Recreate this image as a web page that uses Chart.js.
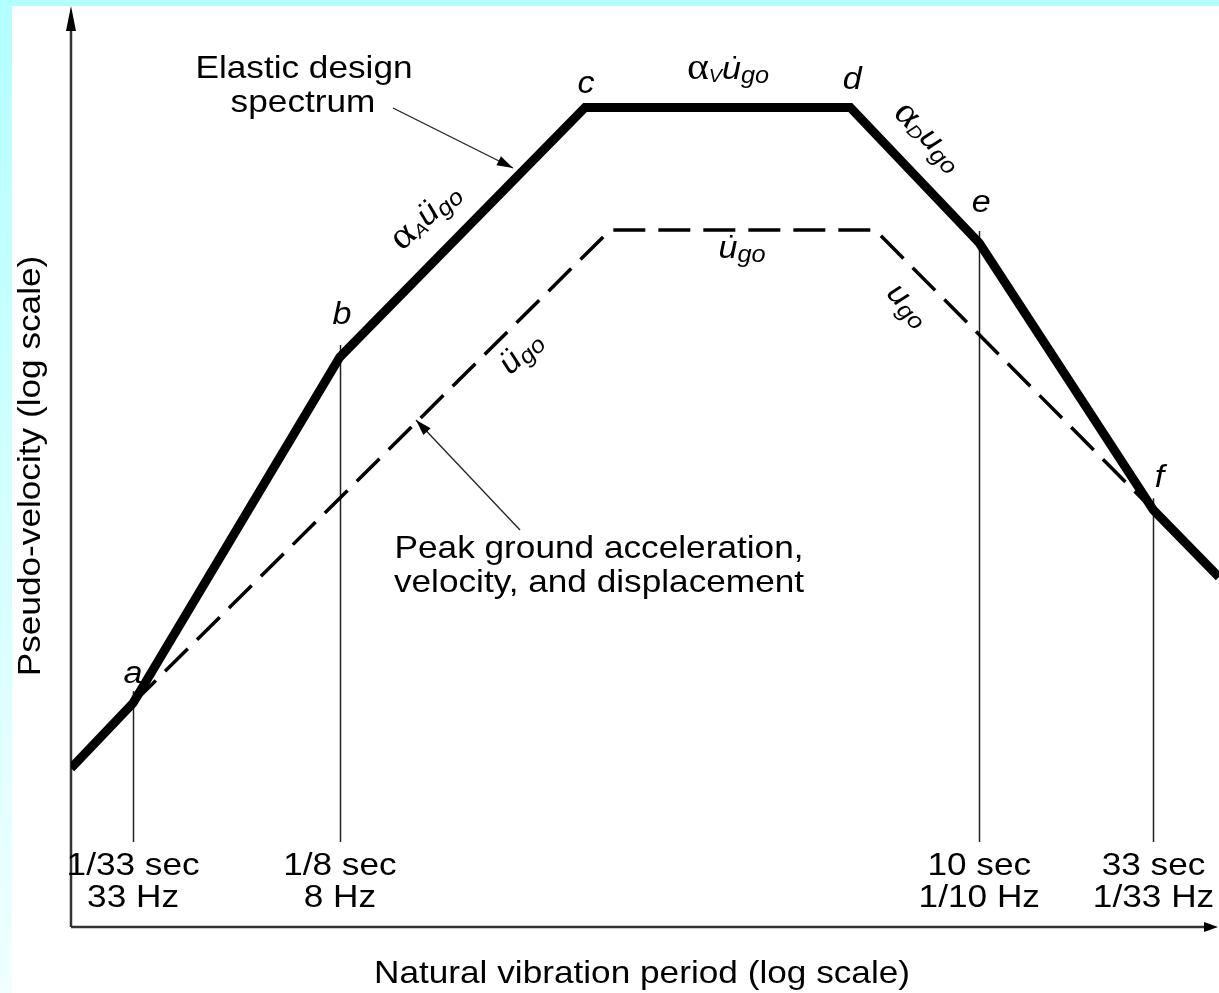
<!DOCTYPE html>
<html>
<head>
<meta charset="utf-8">
<script src="https://cdn.jsdelivr.net/npm/chart.js@4.4.0/dist/chart.umd.min.js"></script>
<style>
  html, body { margin: 0; padding: 0; }
  body { width: 1219px; height: 993px; overflow: hidden; }
</style>
</head>
<body>
<canvas id="chart" width="1219" height="993"></canvas>
<script>
// corner points of the elastic design spectrum (period in sec, pseudo-velocity, arbitrary units)
const spectrumPeriod = [0.0198, 1 / 33, 1 / 8, 0.671, 4.13, 10, 33, 51.7];
const spectrumVel = [2.97, 4.64, 49.7, 275, 275, 108.6, 17.4, 11.0];
// peak ground motion line (dashed)
const groundPeriod = [1 / 33, 0.797, 4.90, 33];
const groundVel = [4.64, 118.7, 118.7, 17.4];
// period markers along the axis
const markerPeriod = [1 / 33, 1 / 8, 10, 33];
const markerSec = ['1/33 sec', '1/8 sec', '10 sec', '33 sec'];
const markerHz = ['33 Hz', '8 Hz', '1/10 Hz', '1/33 Hz'];
// names of the spectrum corners a..f (index into spectrum arrays)
const cornerName = ['a', 'b', 'c', 'd', 'e', 'f'];
const cornerIndex = [1, 2, 3, 4, 5, 6];

const SANS = '"Liberation Sans", Arial, sans-serif';
const STRETCH = 1.1;   // the original lettering is a bit wider than Arial

// label offsets from the corner point, px
const cornerOffset = [[0, -29], [2, -42], [1, -23], [2, -27], [2, -40], [6, -32]];

function sup(t) { return { t, font: 'italic 31px ' + SANS }; }
function alpha() { return { t: 'α', font: '38px "Liberation Serif", serif', dy: -1 }; }
function sub(t, size) { return { t, font: 'italic ' + size + 'px ' + SANS, dy: 7 }; }

// rich labels: parts, centre x, centre y, angle (deg)
const notes = [
  { parts: [alpha(), sub('V', 18), { ...sup('u'), dots: 1 }, sub('go', 23)], x: 728, y: 70, a: 0 },
  { parts: [alpha(), sub('A', 18), { ...sup('u'), dots: 2 }, sub('go', 23)], x: 426, y: 217, a: -43 },
  { parts: [alpha(), sub('D', 18), sup('u'), sub('go', 23)], x: 928, y: 137, a: 45 },
  { parts: [{ ...sup('u'), dots: 1 }, sub('go', 23)], x: 742, y: 249, a: 0 },
  { parts: [{ ...sup('u'), dots: 2 }, sub('go', 23)], x: 521, y: 353, a: -45 },
  { parts: [sup('u'), sub('go', 23)], x: 908, y: 305, a: 45 }
];

function richText(ctx, parts, cx, cy, angle) {
  ctx.save();
  ctx.translate(cx, cy);
  ctx.rotate(angle * Math.PI / 180);
  ctx.scale(STRETCH, 1);
  ctx.textBaseline = 'middle';
  ctx.textAlign = 'left';
  let w = 0;
  parts.forEach(p => { ctx.font = p.font; w += ctx.measureText(p.t).width; });
  let x = -w / 2;
  parts.forEach(p => {
    ctx.font = p.font;
    const pw = ctx.measureText(p.t).width;
    ctx.fillText(p.t, x, p.dy || 0);
    if (p.dots) {
      const mx = x + pw / 2 + 3;
      for (let k = 0; k < p.dots; k++) {
        const dx = p.dots === 1 ? 0 : (k ? 3 : -3);
        ctx.fillRect(mx + dx - 1.2, -14, 2.4, 2.6);
      }
    }
    x += pw;
  });
  ctx.restore();
}

function plainText(ctx, txt, cx, baseY, font, angle) {
  ctx.save();
  ctx.translate(cx, baseY);
  if (angle) ctx.rotate(angle * Math.PI / 180);
  ctx.scale(STRETCH, 1);
  ctx.font = font;
  ctx.textAlign = 'center';
  ctx.textBaseline = 'alphabetic';
  ctx.fillText(txt, 0, 0);
  ctx.restore();
}

function arrow(ctx, x1, y1, x2, y2, head, half) {
  ctx.beginPath(); ctx.moveTo(x1, y1); ctx.lineTo(x2, y2); ctx.stroke();
  const a = Math.atan2(y2 - y1, x2 - x1);
  const bx = x2 - head * Math.cos(a), by = y2 - head * Math.sin(a);
  ctx.beginPath();
  ctx.moveTo(x2, y2);
  ctx.lineTo(bx + half * Math.sin(a), by - half * Math.cos(a));
  ctx.lineTo(bx - half * Math.sin(a), by + half * Math.cos(a));
  ctx.closePath(); ctx.fill();
}

const sketch = {
  id: 'sketch',
  beforeDraw(chart) {
    const { ctx, width, height } = chart;
    ctx.save();
    const g = ctx.createLinearGradient(0, 0, 0, height);
    g.addColorStop(0, '#b3ffff');
    g.addColorStop(1, '#f0ffff');
    ctx.fillStyle = g;
    ctx.fillRect(0, 0, width, height);
    ctx.fillStyle = '#fff';
    ctx.fillRect(12, 6, width - 12, height - 6);
    ctx.restore();
  },
  beforeDatasetsDraw(chart) {
    const { ctx, chartArea: ca, scales: { x, y } } = chart;
    ctx.save();
    // period markers
    ctx.strokeStyle = '#222';
    ctx.lineWidth = 1.5;
    markerPeriod.forEach(p => {
      const i = spectrumPeriod.findIndex(v => Math.abs(v - p) < 1e-9);
      const px = Math.round(x.getPixelForValue(p)) + 0.5;
      const top = y.getPixelForValue(spectrumVel[i]) - 12;
      ctx.beginPath(); ctx.moveTo(px, top); ctx.lineTo(px, 842); ctx.stroke();
    });
    // axes with arrow heads
    ctx.strokeStyle = '#333';
    ctx.fillStyle = '#000';
    ctx.lineWidth = 2.5;
    ctx.beginPath(); ctx.moveTo(ca.left, ca.bottom); ctx.lineTo(ca.left, ca.top + 15); ctx.stroke();
    ctx.beginPath(); ctx.moveTo(ca.left, ca.bottom); ctx.lineTo(ca.right - 10, ca.bottom); ctx.stroke();
    ctx.beginPath();
    ctx.moveTo(ca.left, ca.top - 4); ctx.lineTo(ca.left + 5, ca.top + 21); ctx.lineTo(ca.left - 5, ca.top + 21);
    ctx.closePath(); ctx.fill();
    ctx.beginPath();
    ctx.moveTo(ca.right - 1, ca.bottom); ctx.lineTo(ca.right - 15, ca.bottom - 5); ctx.lineTo(ca.right - 15, ca.bottom + 5);
    ctx.closePath(); ctx.fill();
    ctx.restore();
  },
  afterDatasetsDraw(chart) {
    const { ctx, scales: { x, y } } = chart;
    ctx.save();
    ctx.fillStyle = '#000';
    const tickFont = '32px ' + SANS;
    markerPeriod.forEach((p, i) => {
      const px = x.getPixelForValue(p);
      plainText(ctx, markerSec[i], px, 875, tickFont);
      plainText(ctx, markerHz[i], px, 907, tickFont);
    });
    plainText(ctx, 'Natural vibration period (log scale)', 642, 983, tickFont);
    plainText(ctx, 'Pseudo-velocity (log scale)', 40, 466, tickFont, -90);

    cornerName.forEach((n, k) => {
      const i = cornerIndex[k];
      const px = x.getPixelForValue(spectrumPeriod[i]) + cornerOffset[k][0];
      const py = y.getPixelForValue(spectrumVel[i]) + cornerOffset[k][1];
      ctx.save();
      ctx.translate(px, py);
      ctx.scale(STRETCH, 1);
      ctx.font = 'italic 31px ' + SANS;
      ctx.textAlign = 'center';
      ctx.textBaseline = 'middle';
      ctx.fillText(n, 0, 0);
      ctx.restore();
    });

    notes.forEach(n => richText(ctx, n.parts, n.x, n.y, n.a));

    plainText(ctx, 'Elastic design', 304, 78, tickFont);
    plainText(ctx, 'spectrum', 303, 112, tickFont);
    plainText(ctx, 'Peak ground acceleration,', 599, 558, tickFont);
    plainText(ctx, 'velocity, and displacement', 599, 592, tickFont);

    ctx.strokeStyle = '#222';
    ctx.lineWidth = 1.3;
    arrow(ctx, 393, 108, 513, 168, 16, 5);
    arrow(ctx, 520, 530, 416, 420, 16, 5);
    ctx.restore();
  }
};

new Chart(document.getElementById('chart'), {
  type: 'line',
  data: {
    datasets: [
      {
        label: 'Elastic design spectrum',
        data: spectrumPeriod.map((p, i) => ({ x: p, y: spectrumVel[i] })),
        borderColor: '#000',
        borderWidth: 9,
        borderJoinStyle: 'miter',
        pointRadius: 0,
        tension: 0
      },
      {
        label: 'Peak ground motion',
        data: groundPeriod.map((p, i) => ({ x: p, y: groundVel[i] })),
        borderColor: '#000',
        borderWidth: 3.5,
        borderDash: [32, 13],
        borderJoinStyle: 'miter',
        pointRadius: 0,
        tension: 0
      }
    ]
  },
  options: {
    responsive: false,
    devicePixelRatio: 1,
    animation: false,
    layout: { padding: { left: 71, right: 0, top: 10, bottom: 66 } },
    scales: {
      x: { type: 'logarithmic', min: 0.0198, max: 51.7, display: false },
      y: { type: 'logarithmic', min: 1, max: 536, display: false }
    },
    plugins: { legend: { display: false }, tooltip: { enabled: false } }
  },
  plugins: [sketch]
});
</script>
</body>
</html>
